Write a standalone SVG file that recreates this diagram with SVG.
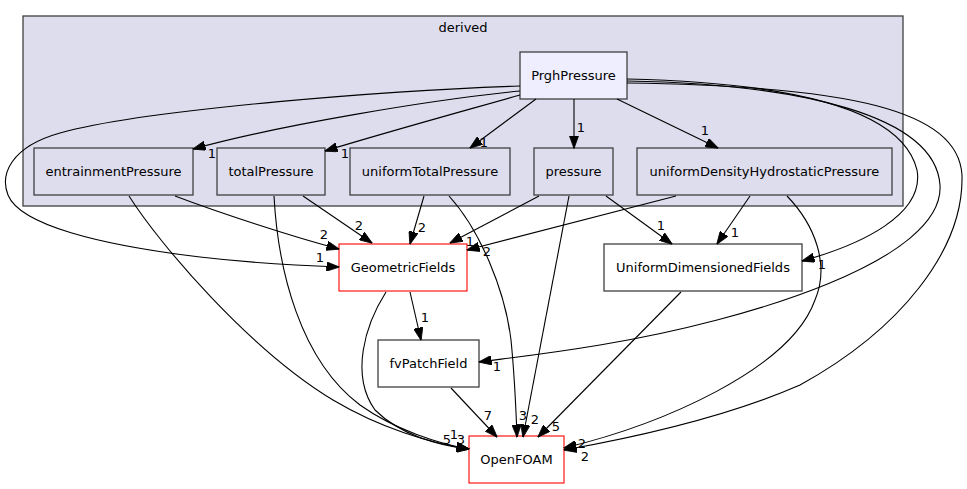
<svg xmlns="http://www.w3.org/2000/svg" width="967" height="489" viewBox="0 0 967 489">
<style>
text{font-family:"DejaVu Sans","Liberation Sans",sans-serif;font-size:13px;fill:#000;text-anchor:middle}
.n{fill:#ddddee;stroke:#404040;stroke-width:1.3}
.w{fill:#ffffff;stroke:#404040;stroke-width:1.3}
.r{fill:#ffffff;stroke:#ff0000;stroke-width:1.1}
.e path{fill:none;stroke:#000;stroke-width:1.1;marker-end:url(#a)}
</style>
<defs>
<marker id="a" viewBox="0 0 13 9.4" refX="12.5" refY="4.7" markerWidth="13" markerHeight="9.4" markerUnits="userSpaceOnUse" orient="auto">
<path d="M0,0 L13,4.7 L0,9.4 z" fill="#000" stroke="#000" stroke-width="0.8"/>
</marker>
</defs>
<rect width="967" height="489" fill="#fff"/>
<g id="cluster_derived">
<rect x="23" y="16" width="880" height="190" fill="#ddddee" stroke="#404040" stroke-width="1.3"/>
<text x="463" y="32">derived</text>
</g>
<g id="node_PrghPressure"><rect x="520" y="52" width="107" height="47" fill="#eeeeff" stroke="#404040" stroke-width="1.3"/><text x="573.5" y="80">PrghPressure</text></g>
<g id="node_entrainmentPressure"><rect class="n" x="34" y="148" width="159" height="47"/><text x="113.5" y="176">entrainmentPressure</text></g>
<g id="node_totalPressure"><rect class="n" x="217" y="148" width="108" height="47"/><text x="271" y="176">totalPressure</text></g>
<g id="node_uniformTotalPressure"><rect class="n" x="350" y="148" width="160" height="47"/><text x="430" y="176">uniformTotalPressure</text></g>
<g id="node_pressure"><rect class="n" x="534" y="148" width="79" height="47"/><text x="573.5" y="176">pressure</text></g>
<g id="node_uniformDensityHydrostaticPressure"><rect class="n" x="637" y="148" width="255" height="47"/><text x="764.5" y="176">uniformDensityHydrostaticPressure</text></g>
<g id="node_GeometricFields"><rect class="r" x="339" y="244" width="128" height="47"/><text x="403" y="272">GeometricFields</text></g>
<g id="node_UniformDimensionedFields"><rect class="w" x="604" y="244" width="198" height="47"/><text x="703" y="272">UniformDimensionedFields</text></g>
<g id="node_fvPatchField"><rect class="w" x="378" y="340" width="101" height="47"/><text x="428.5" y="368">fvPatchField</text></g>
<g id="node_OpenFOAM"><rect class="r" x="469" y="436" width="95" height="47"/><text x="516.5" y="464">OpenFOAM</text></g>
<g id="connectors" class="e">
<path d="M520,91 C430,100 280,125 193,149"/>
<path d="M520,95 C460,112 380,134 325,151"/>
<path d="M536,99 L470,148"/>
<path d="M574,99 L574,148"/>
<path d="M617,99 L718,148"/>
<path d="M520,86 C400,90 150,108 60,133 C10,147 0,175 8,195 C20,225 100,245 200,257 C260,264 310,266 339,267"/>
<path d="M627,79 C760,82 900,100 917,170 C925,215 860,245 802,261"/>
<path d="M627,81 C800,84 935,115 940,185 C945,260 750,320 600,345 C540,355 500,359 479,362"/>
<path d="M627,83 C850,86 958,110 962,175 C964,250 900,330 800,385 C720,420 620,440 564,450"/>
<path d="M787,196 C815,225 830,265 815,300 C790,370 660,425 564,448"/>
<path d="M676,196 L467,250"/>
<path d="M750,196 L717,244"/>
<path d="M175,196 C220,213 290,236 339,249"/>
<path d="M129,196 C160,245 250,350 333,400 C380,428 430,443 469,449"/>
<path d="M303,196 L372,243"/>
<path d="M274,196 C278,270 300,360 360,405 C395,430 440,444 469,449"/>
<path d="M424,196 L410,244"/>
<path d="M449,196 C480,230 505,290 511,340 C515,380 516,410 517,437"/>
<path d="M539,196 L450,243"/>
<path d="M569,196 L523,437"/>
<path d="M606,196 L672,244"/>
<path d="M410,292 L421,340"/>
<path d="M386,292 C365,325 350,375 375,410 C400,435 440,446 469,449"/>
<path d="M451,388 L497,437"/>
<path d="M681,292 L538,437"/>
</g>
<g id="edge_labels">
<text x="212" y="158">1</text>
<text x="345" y="158">1</text>
<text x="484" y="147">1</text>
<text x="581" y="132">1</text>
<text x="705" y="135">1</text>
<text x="320" y="262">1</text>
<text x="822" y="269">1</text>
<text x="497" y="371">1</text>
<text x="582" y="448">2</text>
<text x="585" y="461">2</text>
<text x="487" y="256">2</text>
<text x="735" y="237">1</text>
<text x="324" y="239">2</text>
<text x="447" y="444">5</text>
<text x="454" y="439">1</text>
<text x="461" y="444">3</text>
<text x="359" y="230">2</text>
<text x="422" y="232">2</text>
<text x="523" y="420">3</text>
<text x="470" y="246">1</text>
<text x="535" y="424">2</text>
<text x="661" y="230">1</text>
<text x="425" y="322">1</text>
<text x="488" y="420">7</text>
<text x="556" y="431">5</text>
</g>
</svg>
